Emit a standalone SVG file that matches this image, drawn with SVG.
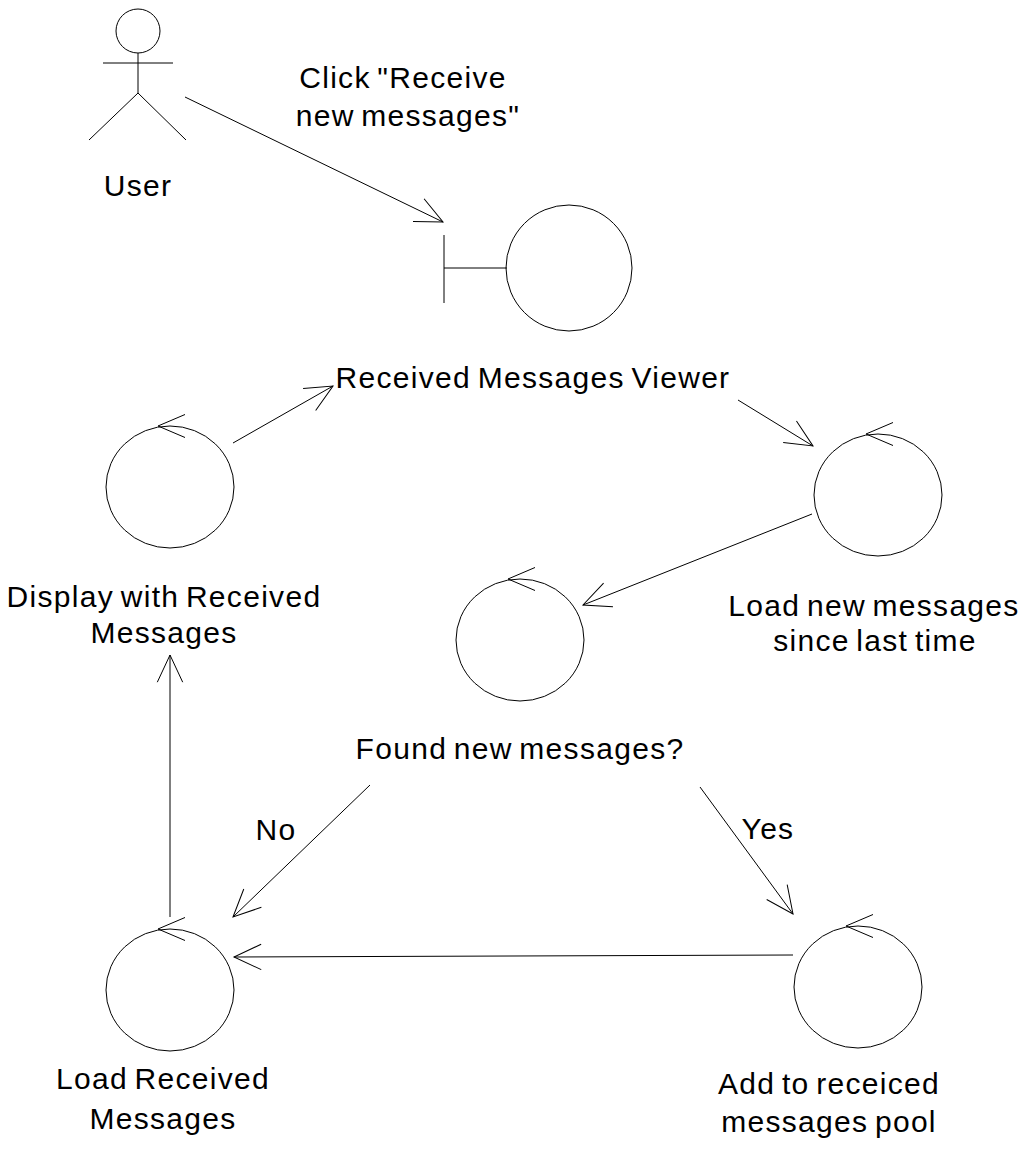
<svg xmlns="http://www.w3.org/2000/svg" width="1029" height="1153" viewBox="0 0 1029 1153">
  <style>
    .ln { fill: none; stroke: #000; stroke-width: 1; }
    .lbl { font-family: "Liberation Sans", Arial, sans-serif; font-size: 30px; letter-spacing: 1.3px; word-spacing: -3px; fill: #000; text-anchor: middle; }
  </style>
  <defs>
    <!-- open V arrowhead, 30px legs at 25 degrees -->
    <marker id="open" viewBox="-32 -16 34 32" markerWidth="34" markerHeight="32" refX="0" refY="0" markerUnits="userSpaceOnUse" orient="auto">
      <path d="M-27.2,-12.7 L0,0 L-27.2,12.7" fill="none" stroke="#000" stroke-width="1"/>
    </marker>
    <!-- controller symbol: circle with a small open arrow on top -->
    <g id="ctrl">
      <ellipse cx="0" cy="0" rx="64" ry="61" class="ln"/>
      <path d="M15,-72.5 L-12,-61 L15,-49.5" class="ln"/>
    </g>
  </defs>
  <rect width="1029" height="1153" fill="#fff"/>

  <g id="user">
    <circle cx="138" cy="31" r="22" class="ln"/>
    <line x1="138" y1="53" x2="138" y2="93" class="ln"/>
    <line x1="103" y1="63" x2="173" y2="63" class="ln"/>
    <polyline points="89,140 138,93 186,140" class="ln"/>
    <text x="138" y="196" class="lbl">User</text>
  </g>

  <g id="viewer">
    <line x1="444" y1="235" x2="444" y2="303" class="ln"/>
    <line x1="444" y1="268" x2="507" y2="268" class="ln"/>
    <circle cx="569" cy="268" r="63" class="ln"/>
    <text x="533" y="388" class="lbl">Received Messages Viewer</text>
  </g>

  <g id="display">
    <use href="#ctrl" x="170" y="487"/>
    <text x="164" y="607" class="lbl">Display with Received</text>
    <text x="164" y="643" class="lbl">Messages</text>
  </g>

  <g id="load-new">
    <use href="#ctrl" x="878" y="495"/>
    <text x="874" y="616" class="lbl">Load new messages</text>
    <text x="875" y="651" class="lbl">since last time</text>
  </g>

  <g id="found">
    <use href="#ctrl" x="520" y="640"/>
    <text x="520" y="759" class="lbl">Found new messages?</text>
  </g>

  <g id="load-received">
    <use href="#ctrl" x="170" y="990"/>
    <text x="163" y="1089" class="lbl">Load Received</text>
    <text x="163" y="1129" class="lbl">Messages</text>
  </g>

  <g id="add-pool">
    <use href="#ctrl" x="858" y="987"/>
    <text x="829" y="1094" class="lbl">Add to receiced</text>
    <text x="829" y="1132" class="lbl">messages pool</text>
  </g>

  <g id="connectors">
    <line x1="185" y1="97" x2="443" y2="222" class="ln" marker-end="url(#open)"/>
    <line x1="233" y1="443" x2="333" y2="386" class="ln" marker-end="url(#open)"/>
    <line x1="738" y1="400" x2="813" y2="446" class="ln" marker-end="url(#open)"/>
    <line x1="812" y1="514" x2="583" y2="605" class="ln" marker-end="url(#open)"/>
    <line x1="370" y1="785" x2="233" y2="917" class="ln" marker-end="url(#open)"/>
    <line x1="700" y1="787" x2="793" y2="914" class="ln" marker-end="url(#open)"/>
    <line x1="793" y1="955" x2="234" y2="957" class="ln" marker-end="url(#open)"/>
    <line x1="170" y1="917" x2="170" y2="655" class="ln" marker-end="url(#open)"/>
    <text x="403" y="88" class="lbl">Click "Receive</text>
    <text x="408" y="126" class="lbl">new messages"</text>
    <text x="276" y="840" class="lbl">No</text>
    <text x="768" y="839" class="lbl">Yes</text>
  </g>
</svg>
